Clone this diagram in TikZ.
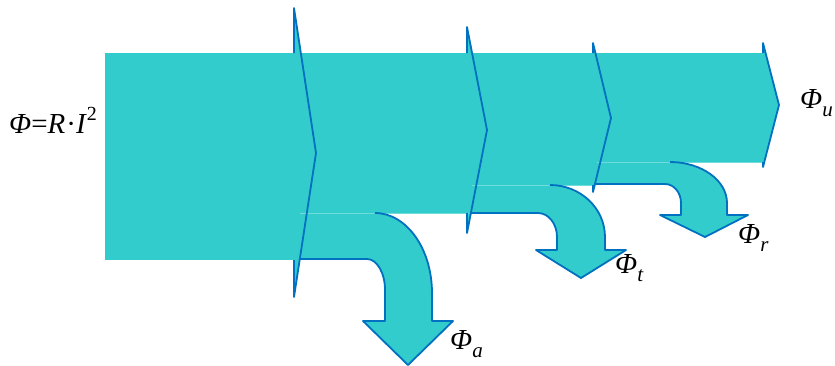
\documentclass[tikz,border=0pt]{standalone}
\usepackage{fontspec}
\setmainfont{Liberation Serif}
\usepackage{xcolor}
\usepackage{tikz}

\definecolor{flowfill}{HTML}{33CCCC}
\definecolor{flowline}{HTML}{0070C0}
\newcommand{\fluxlabel}[1]{\textit{Φ}\raisebox{-8pt}{\fontsize{21}{21}\selectfont\itshape #1}}

\begin{document}
\begin{tikzpicture}[x=1pt, y=-1pt,
    band/.style={fill=flowfill, draw=none},
    edge/.style={draw=flowline, line width=1.8pt, line join=round},
    seam/.style={draw=flowfill!70!white, line width=0.6pt},
    lbl/.style={anchor=base west, inner sep=0pt, font=\fontsize{29}{31}\selectfont}]
  \useasboundingbox (0,0) rectangle (835,365);
  % main flow, one band per stage
  \foreach \xa/\xb/\yb in {105/295/260, 294/468/213, 467/594/185, 593/764/162}
    \fill[band] (\xa,53) rectangle (\xb,\yb);
  \foreach \xb/\yt/\xt/\ym/\yl in {294/8/316/153/297, 467/27/487/130/233,
                                   593/43/611/118/192, 763/43/779/105/167}
    \fill[band] (\xb,\yt) -- (\xt,\ym) -- (\xb,\yl) -- cycle;
  % losses bending down
  \fill[band] (294,213) -- (375,213) .. controls (406.5,213) and (432,248.8) .. (432,293)
    -- (432,321) -- (453,321) -- (408,365) -- (363,321) -- (385,321) -- (385,290)
    .. controls (385,272.9) and (376.9,259) .. (367,259) -- (294,259) -- cycle;
  \fill[band] (467,185) -- (550,185) .. controls (580.4,185) and (605,208.3) .. (605,237)
    -- (605,250) -- (626,250) -- (581,278) -- (536,250) -- (557,250) -- (557,237)
    .. controls (557,223.8) and (548.5,213) .. (538,213) -- (467,213) -- cycle;
  \fill[band] (593,162) -- (670,162) .. controls (701.5,162) and (727,180.4) .. (727,203)
    -- (727,215) -- (748,215) -- (705,237) -- (660,215) -- (681,215) -- (681,203)
    .. controls (681,192.5) and (673.8,184) .. (665,184) -- (593,184) -- cycle;
  \foreach \xa/\xb/\y in {300/469/213, 472/595/185, 597/763/162}
    \draw[seam] (\xa,\y) -- (\xb,\y);
  % outlines
  \draw[edge] (375,213) .. controls (406.5,213) and (432,248.8) .. (432,293)
    -- (432,321) -- (453,321) -- (408,365) -- (363,321) -- (385,321) -- (385,290)
    .. controls (385,272.9) and (376.9,259) .. (367,259) -- (299.8,259);
  \draw[edge] (550,185) .. controls (580.4,185) and (605,208.3) .. (605,237)
    -- (605,250) -- (626,250) -- (581,278) -- (536,250) -- (557,250) -- (557,237)
    .. controls (557,223.8) and (548.5,213) .. (538,213) -- (470.9,213);
  \draw[edge] (670,162) .. controls (701.5,162) and (727,180.4) .. (727,203)
    -- (727,215) -- (748,215) -- (705,237) -- (660,215) -- (681,215) -- (681,203)
    .. controls (681,192.5) and (673.8,184) .. (665,184) -- (595,184);
  \foreach \xb/\yt/\xt/\ym/\yl/\yb in {294/8/316/153/297/260, 467/27/487/130/233/213,
                                       593/43/611/118/192/185, 763/43/779/105/167/162}
    \draw[edge] (\xb,53) -- (\xb,\yt) -- (\xt,\ym) -- (\xb,\yl) -- (\xb,\yb);
  % labels
  \node[lbl] (input) at (9,133) {\textit{Φ}=\textit{R}\kern1pt·\textit{I}\raisebox{13pt}{\fontsize{20}{20}\selectfont 2}};
  \node[lbl] (useful) at (800,108) {\fluxlabel{u}};
  \node[lbl] (lossa) at (450,349) {\fluxlabel{a}};
  \node[lbl] (losst) at (615,273) {\fluxlabel{t}};
  \node[lbl] (lossr) at (738,243) {\fluxlabel{r}};
\end{tikzpicture}
\end{document}
